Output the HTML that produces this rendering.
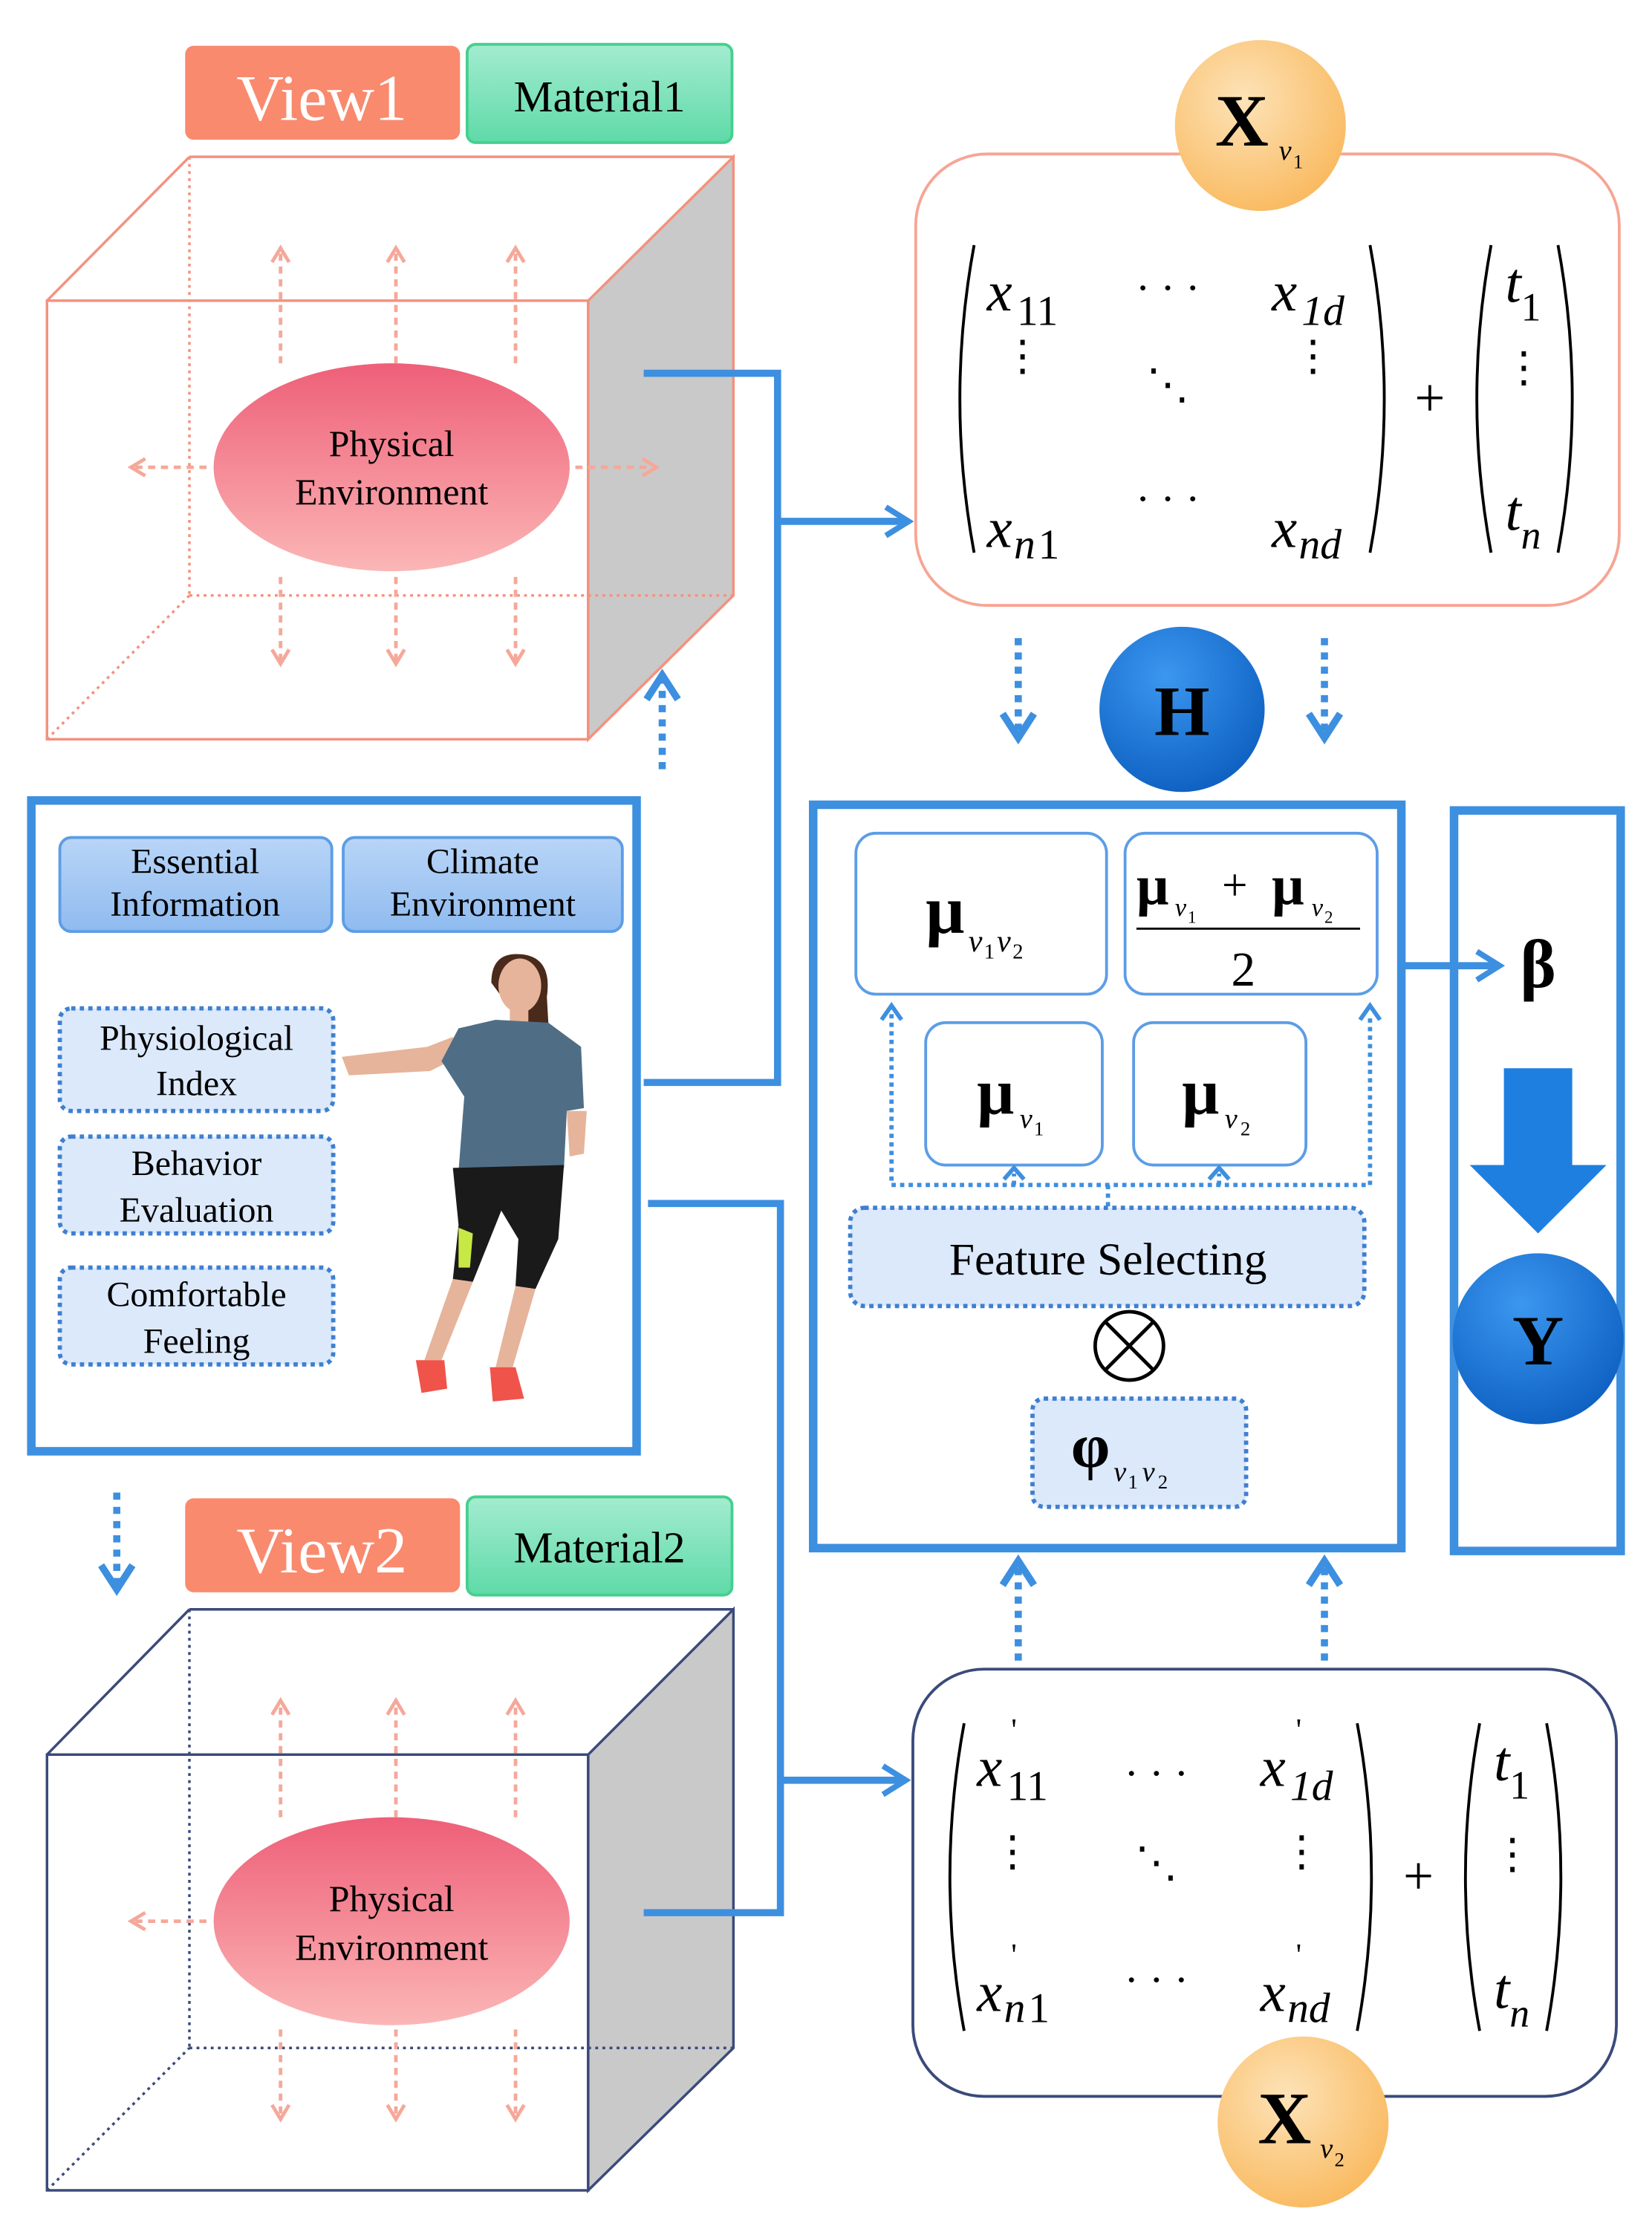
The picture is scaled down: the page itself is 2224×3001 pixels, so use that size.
<!DOCTYPE html>
<html><head><meta charset="utf-8"><style>
html,body{margin:0;padding:0;background:#fff}
svg{display:block;font-family:"Liberation Serif","DejaVu Serif",serif}
svg text{font-family:"Liberation Serif","DejaVu Serif",serif}
</style></head><body>
<svg width="2224" height="3001" viewBox="0 0 1160 1565" xmlns="http://www.w3.org/2000/svg">
<defs>
<linearGradient id="pink" x1="0" y1="0" x2="0" y2="1"><stop offset="0" stop-color="#ee5f78"/><stop offset="1" stop-color="#fbb6b6"/></linearGradient>
<linearGradient id="grn" x1="0" y1="0" x2="0" y2="1"><stop offset="0" stop-color="#a3ecd0"/><stop offset="1" stop-color="#5fdaa8"/></linearGradient>
<linearGradient id="lb" x1="0" y1="0" x2="0" y2="1"><stop offset="0" stop-color="#b9d5f7"/><stop offset="1" stop-color="#8fbbef"/></linearGradient>
<radialGradient id="org" cx="0.4" cy="0.35" r="0.7"><stop offset="0" stop-color="#fde3b8"/><stop offset="1" stop-color="#f9b95e"/></radialGradient>
<radialGradient id="blu" cx="0.4" cy="0.3" r="0.75"><stop offset="0" stop-color="#3b97f0"/><stop offset="1" stop-color="#0d5fc0"/></radialGradient>
<marker id="abig" markerWidth="24" markerHeight="24" refX="18" refY="12" orient="auto" markerUnits="userSpaceOnUse"><path d="M2,2 L18,12 L2,22" fill="none" stroke="#3d8fe0" stroke-width="4"/></marker>
<marker id="as" markerWidth="16" markerHeight="16" refX="12" refY="8" orient="auto" markerUnits="userSpaceOnUse"><path d="M2,2 L12,8 L2,14" fill="none" stroke="#f5a89a" stroke-width="2.5"/></marker>
<marker id="abd" markerWidth="28" markerHeight="28" refX="20" refY="14" orient="auto" markerUnits="userSpaceOnUse"><path d="M3,3 L20,14 L3,25" fill="none" stroke="#3d8fe0" stroke-width="5"/></marker>
</defs>
<g>
<rect x="130" y="32" width="193" height="66" rx="6" fill="#f98a6e"/>
<text x="226" y="84" font-size="46" fill="#fff" text-anchor="middle">View1</text>
<rect x="328" y="31" width="186" height="69" rx="6" fill="url(#grn)" stroke="#46cf8e" stroke-width="2"/>
<text x="421" y="78" font-size="31" text-anchor="middle">Material1</text>

<g stroke="#f4917e" stroke-width="1.8" fill="none">
<polygon points="413,211 515,110 515,418 413,519" fill="#c9c9c9" stroke="#f4917e"/>
<line x1="33" y1="211" x2="133" y2="110"/><line x1="133" y1="110" x2="515" y2="110"/>
<rect x="33" y="211" width="380" height="308"/>
<g stroke-dasharray="2,3"><line x1="133" y1="110" x2="133" y2="418"/><line x1="133" y1="418" x2="515" y2="418"/><line x1="33" y1="519" x2="133" y2="418"/></g>
</g>
<ellipse cx="275" cy="328" rx="125" ry="73" fill="url(#pink)"/>
<text x="275" y="320" font-size="26" text-anchor="middle">Physical</text>
<text x="275" y="354" font-size="26" text-anchor="middle">Environment</text>
<g stroke="#f5a89a" stroke-width="2.5" stroke-dasharray="5,4" fill="none" marker-end="url(#as)">
<line x1="197" y1="255" x2="197" y2="174"/><line x1="278" y1="255" x2="278" y2="174"/><line x1="362" y1="255" x2="362" y2="174"/>
<line x1="197" y1="405" x2="197" y2="466"/><line x1="278" y1="405" x2="278" y2="466"/><line x1="362" y1="405" x2="362" y2="466"/>
<line x1="145" y1="328" x2="92" y2="328"/><line x1="404" y1="328" x2="461" y2="328"/>
</g>

<g stroke="#3a4a7a" stroke-width="1.8" fill="none">
<polygon points="413,1232 515,1130 515,1438 413,1538" fill="#c9c9c9"/>
<line x1="33" y1="1232" x2="133" y2="1130"/><line x1="133" y1="1130" x2="515" y2="1130"/>
<rect x="33" y="1232" width="380" height="306"/>
<g stroke-dasharray="2,3"><line x1="133" y1="1130" x2="133" y2="1438"/><line x1="133" y1="1438" x2="515" y2="1438"/><line x1="33" y1="1538" x2="133" y2="1438"/></g>
</g>
<ellipse cx="275" cy="1349" rx="125" ry="73" fill="url(#pink)"/>
<text x="275" y="1342" font-size="26" text-anchor="middle">Physical</text>
<text x="275" y="1376" font-size="26" text-anchor="middle">Environment</text>
<g stroke="#f5a89a" stroke-width="2.5" stroke-dasharray="5,4" fill="none" marker-end="url(#as)">
<line x1="197" y1="1276" x2="197" y2="1194"/><line x1="278" y1="1276" x2="278" y2="1194"/><line x1="362" y1="1276" x2="362" y2="1194"/>
<line x1="197" y1="1425" x2="197" y2="1488"/><line x1="278" y1="1425" x2="278" y2="1488"/><line x1="362" y1="1425" x2="362" y2="1488"/>
<line x1="145" y1="1349" x2="92" y2="1349"/>
</g>

<rect x="130" y="1052" width="193" height="66" rx="6" fill="#f98a6e"/>
<text x="226" y="1104" font-size="46" fill="#fff" text-anchor="middle">View2</text>
<rect x="328" y="1051" width="186" height="69" rx="6" fill="url(#grn)" stroke="#46cf8e" stroke-width="2"/>
<text x="421" y="1097" font-size="31" text-anchor="middle">Material2</text>

<g stroke="#3d8fe0" stroke-width="5" stroke-dasharray="5,5" fill="none" marker-end="url(#abd)">
<line x1="465" y1="540" x2="465" y2="474"/>
<line x1="82" y1="1048" x2="82" y2="1116"/>
<line x1="715" y1="448" x2="715" y2="518"/><line x1="930" y1="448" x2="930" y2="518"/>
<line x1="715" y1="1166" x2="715" y2="1096"/><line x1="930" y1="1166" x2="930" y2="1096"/>
</g>

<g stroke="#3d8fe0" stroke-width="5" fill="none">
<polyline points="452,262 546,262 546,760 452,760"/>
<line x1="546" y1="366" x2="638" y2="366" marker-end="url(#abig)"/>
<polyline points="455,845 548,845 548,1343 452,1343"/>
<line x1="548" y1="1250" x2="636" y2="1250" marker-end="url(#abig)"/>
</g>

<rect x="22" y="562" width="425" height="457" fill="#fff" stroke="#3d8fe0" stroke-width="6"/>
<rect x="42" y="588" width="191" height="66" rx="8" fill="url(#lb)" stroke="#5c9de6" stroke-width="2"/>
<text x="137" y="613" font-size="25" text-anchor="middle">Essential</text>
<text x="137" y="643" font-size="25" text-anchor="middle">Information</text>
<rect x="241" y="588" width="196" height="66" rx="8" fill="url(#lb)" stroke="#5c9de6" stroke-width="2"/>
<text x="339" y="613" font-size="25" text-anchor="middle">Climate</text>
<text x="339" y="643" font-size="25" text-anchor="middle">Environment</text>
<g fill="#dbe9fb" stroke="#3f7fd0" stroke-width="3" stroke-dasharray="3,3">
<rect x="42" y="708" width="192" height="72" rx="8"/>
<rect x="42" y="798" width="192" height="68" rx="8"/>
<rect x="42" y="890" width="192" height="68" rx="8"/>
</g>
<g font-size="25" text-anchor="middle">
<text x="138" y="737">Physiological</text><text x="138" y="769">Index</text>
<text x="138" y="825">Behavior</text><text x="138" y="858">Evaluation</text>
<text x="138" y="917">Comfortable</text><text x="138" y="950">Feeling</text>
</g>
<g>
<path d="M345,690 Q345,668 366,670 Q388,672 384,700 L386,735 L376,732 Z" fill="#4a2a1a"/>
<ellipse cx="365" cy="692" rx="15" ry="19" fill="#e6b49a"/>
<rect x="358" y="708" width="13" height="14" fill="#e6b49a"/>
<path d="M240,742 L300,735 L318,728 L322,742 L302,752 L245,755 Z" fill="#e6b49a"/>
<path d="M322,722 L348,716 L385,718 L408,735 L410,778 L398,780 L396,820 L322,822 L326,770 L310,745 Z" fill="#4f6e86"/>
<path d="M398,780 L412,780 L410,810 L400,812 Z" fill="#e6b49a"/>
<path d="M318,820 L396,818 L392,870 L376,905 L362,903 L364,870 L352,850 L332,900 L318,898 L322,860 Z" fill="#1a1a1a"/>
<path d="M322,862 L332,866 L330,890 L322,890 Z" fill="#c8e845"/>
<path d="M318,898 L332,900 L310,955 L298,955 Z" fill="#e6b49a"/>
<path d="M362,903 L376,905 L360,960 L348,960 Z" fill="#e6b49a"/>
<path d="M292,955 L312,955 L314,975 L296,978 Z" fill="#f0534a"/>
<path d="M344,960 L362,960 L368,982 L346,984 Z" fill="#f0534a"/>
</g>

<rect x="643" y="108" width="494" height="317" rx="50" fill="#fff" stroke="#f7a594" stroke-width="2"/>
<g fill="none" stroke="#000" stroke-width="2">
<path d="M684,172 Q664,280 684,388"/><path d="M962,172 Q982,280 962,388"/>
<path d="M1047,172 Q1027,280 1047,388"/><path d="M1094,172 Q1114,280 1094,388"/>
</g>
<g font-size="40" font-style="italic">
<text x="693" y="218">x</text><text x="714" y="228" font-size="30" font-style="normal">11</text>
<text x="893" y="218">x</text><text x="914" y="228" font-size="30">1d</text>
<text x="693" y="384">x</text><text x="712" y="392" font-size="30">n</text><text x="729" y="392" font-size="30" font-style="normal">1</text>
<text x="893" y="384">x</text><text x="912" y="392" font-size="30">nd</text>
<text x="1057" y="212">t</text><text x="1068" y="225" font-size="28" font-style="normal">1</text>
<text x="1057" y="372">t</text><text x="1068" y="385" font-size="28">n</text>
</g>
<g font-size="30" text-anchor="middle">
<text x="820" y="212">· · ·</text><text x="820" y="360">· · ·</text>
<text x="718" y="260">⋮</text><text x="922" y="260">⋮</text><text x="1070" y="268">⋮</text><text x="820" y="280">⋱</text>
<text x="1004" y="292" font-size="38">+</text>
</g>
<circle cx="885" cy="88" r="60" fill="url(#org)"/>
<text x="872" y="102" font-size="52" font-weight="bold" text-anchor="middle">X</text>
<text x="898" y="112" font-size="20" font-style="italic">v</text><text x="908" y="118" font-size="14">1</text>

<circle cx="830" cy="498" r="58" fill="url(#blu)"/>
<text x="830" y="516" font-size="50" font-weight="bold" text-anchor="middle" fill="#000">H</text>

<rect x="571" y="565" width="413" height="522" fill="#fff" stroke="#3d8fe0" stroke-width="6"/>
<g fill="#fff" stroke="#5c9de6" stroke-width="2">
<rect x="601" y="585" width="176" height="113" rx="14"/>
<rect x="790" y="585" width="177" height="113" rx="14"/>
<rect x="650" y="718" width="124" height="100" rx="14"/>
<rect x="796" y="718" width="121" height="100" rx="14"/>
</g>
<text x="650" y="655" font-size="48" font-weight="bold">μ</text>
<text x="680" y="668" font-size="22" font-style="italic">v</text><text x="691" y="673" font-size="15">1</text><text x="700" y="668" font-size="22" font-style="italic">v</text><text x="711" y="673" font-size="15">2</text>
<text x="798" y="635" font-size="40" font-weight="bold">μ</text>
<text x="825" y="643" font-size="18" font-style="italic">v</text><text x="834" y="648" font-size="12">1</text>
<text x="858" y="632" font-size="32">+</text>
<text x="893" y="635" font-size="40" font-weight="bold">μ</text>
<text x="921" y="643" font-size="18" font-style="italic">v</text><text x="930" y="648" font-size="12">2</text>
<line x1="798" y1="652" x2="955" y2="652" stroke="#000" stroke-width="1.5"/>
<text x="873" y="692" font-size="34" text-anchor="middle">2</text>
<text x="686" y="782" font-size="46" font-weight="bold">μ</text>
<text x="716" y="792" font-size="20" font-style="italic">v</text><text x="726" y="797" font-size="14">1</text>
<text x="830" y="782" font-size="46" font-weight="bold">μ</text>
<text x="860" y="792" font-size="20" font-style="italic">v</text><text x="871" y="797" font-size="14">2</text>
<g stroke="#3d8fe0" stroke-width="3" stroke-dasharray="3,3" fill="none">
<polyline points="626,712 626,832 962,832 962,712"/>
<line x1="712" y1="832" x2="712" y2="824"/><line x1="856" y1="832" x2="856" y2="824"/><line x1="778" y1="832" x2="778" y2="848"/>
</g>
<g stroke="#3d8fe0" stroke-width="3" fill="none">
<path d="M619,716 L626,706 L633,716"/><path d="M955,716 L962,706 L969,716"/>
<path d="M705,828 L712,820 L719,828"/><path d="M849,828 L856,820 L863,828"/>
</g>
<rect x="597" y="848" width="361" height="69" rx="10" fill="#dbe9fb" stroke="#3f7fd0" stroke-width="3" stroke-dasharray="3,3"/>
<text x="778" y="895" font-size="32" text-anchor="middle">Feature Selecting</text>
<circle cx="793" cy="945" r="24" fill="#fff" stroke="#000" stroke-width="2.5"/>
<line x1="776" y1="928" x2="810" y2="962" stroke="#000" stroke-width="2.5"/><line x1="810" y1="928" x2="776" y2="962" stroke="#000" stroke-width="2.5"/>
<rect x="725" y="982" width="150" height="76" rx="8" fill="#dbe9fb" stroke="#3f7fd0" stroke-width="3" stroke-dasharray="3,3"/>
<text x="752" y="1030" font-size="44" font-weight="bold">φ</text>
<text x="782" y="1040" font-size="20" font-style="italic">v</text><text x="792" y="1045" font-size="14">1</text><text x="802" y="1040" font-size="20" font-style="italic">v</text><text x="813" y="1045" font-size="14">2</text>

<rect x="1021" y="569" width="117" height="520" fill="#fff" stroke="#3d8fe0" stroke-width="6"/>
<line x1="985" y1="678" x2="1053" y2="678" stroke="#3d8fe0" stroke-width="5" marker-end="url(#abig)"/>
<text x="1080" y="693" font-size="48" font-weight="bold" text-anchor="middle">β</text>
<polygon points="1056,750 1104,750 1104,818 1128,818 1080,866 1032,818 1056,818" fill="#1f7fe0"/>
<circle cx="1080" cy="940" r="60" fill="url(#blu)"/>
<text x="1080" y="958" font-size="50" font-weight="bold" text-anchor="middle">Y</text>

<rect x="641" y="1172" width="494" height="300" rx="50" fill="#fff" stroke="#3a4a7a" stroke-width="2"/>
<g fill="none" stroke="#000" stroke-width="2">
<path d="M677,1210 Q657,1318 677,1426"/><path d="M953,1210 Q973,1318 953,1426"/>
<path d="M1039,1210 Q1019,1318 1039,1426"/><path d="M1086,1210 Q1106,1318 1086,1426"/>
</g>
<g font-size="40" font-style="italic">
<text x="686" y="1254">x</text><text x="707" y="1264" font-size="30" font-style="normal">11</text><text x="710" y="1222" font-size="22" font-style="normal">'</text>
<text x="885" y="1254">x</text><text x="906" y="1264" font-size="30">1d</text><text x="910" y="1222" font-size="22" font-style="normal">'</text>
<text x="686" y="1412">x</text><text x="705" y="1420" font-size="30">n</text><text x="722" y="1420" font-size="30" font-style="normal">1</text><text x="710" y="1380" font-size="22" font-style="normal">'</text>
<text x="885" y="1412">x</text><text x="904" y="1420" font-size="30">nd</text><text x="910" y="1380" font-size="22" font-style="normal">'</text>
<text x="1049" y="1250">t</text><text x="1060" y="1263" font-size="28" font-style="normal">1</text>
<text x="1049" y="1410">t</text><text x="1060" y="1423" font-size="28">n</text>
</g>
<g font-size="30" text-anchor="middle">
<text x="812" y="1255">· · ·</text><text x="812" y="1400">· · ·</text>
<text x="711" y="1310">⋮</text><text x="914" y="1310">⋮</text><text x="1062" y="1312">⋮</text><text x="812" y="1318">⋱</text>
<text x="996" y="1330" font-size="38">+</text>
</g>
<circle cx="915" cy="1490" r="60" fill="url(#org)"/>
<text x="902" y="1505" font-size="52" font-weight="bold" text-anchor="middle">X</text>
<text x="927" y="1515" font-size="20" font-style="italic">v</text><text x="937" y="1521" font-size="14">2</text>
</g>
</svg>
</body></html>
